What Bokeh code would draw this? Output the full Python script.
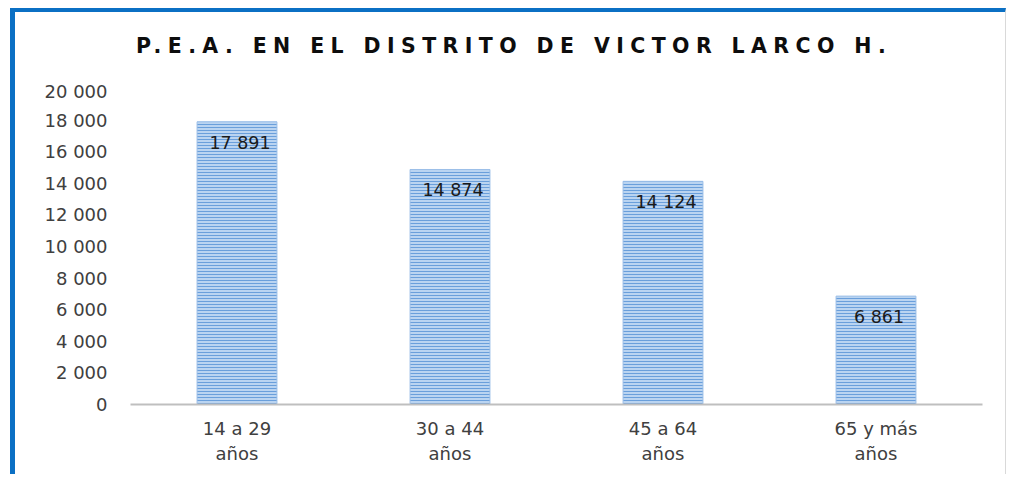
from bokeh.plotting import figure
from bokeh.models import FixedTicker, Div, Range1d, FactorRange
from bokeh.layouts import column
from bokeh.core.properties import value
from bokeh.embed import file_html
from bokeh.resources import INLINE

categories = ["14 a 29\naños", "30 a 44\naños", "45 a 64\naños", "65 y más\naños"]
values = [17891, 14874, 14124, 6861]
value_labels = ["17 891", "14 874", "14 124", "6 861"]
y_ticks = [0, 2000, 4000, 6000, 8000, 10000, 12000, 14000, 16000, 18000, 20000]
y_tick_labels = ["0", "2 000", "4 000", "6 000", "8 000", "10 000", "12 000",
                 "14 000", "16 000", "18 000", "20 000"]
title_text = "P.E.A. EN EL DISTRITO DE VICTOR LARCO H."

FONT = "DejaVu Sans"

title = Div(text=title_text, width=990, height=68,
            styles={"font-family": "DejaVu Sans", "font-weight": "bold",
                    "font-size": "20.5px", "letter-spacing": "6.4px", "word-spacing": "0px",
                    "color": "#0d0d0d", "text-align": "center", "line-height": "24px",
                    "padding-top": "22px", "padding-left": "8px", "box-sizing": "border-box",
                    "margin": "0px"})

p = figure(x_range=FactorRange(*categories, range_padding=0), y_range=Range1d(0, 20000),
           width=990, height=394, frame_width=852, frame_height=316,
           output_backend="svg", toolbar_location=None,
           min_border_left=115, min_border_right=23, min_border_top=8, min_border_bottom=70)
p.outline_line_color = None
p.background_fill_color = "white"
p.border_fill_color = "white"
p.xgrid.grid_line_color = None
p.ygrid.grid_line_color = None

p.vbar(x=categories, top=values, width=0.375, fill_color="#bad4f1", line_color="#9cbfe8",
       line_width=1, hatch_pattern="horizontal_line", hatch_color="#6a9fdb",
       hatch_scale=3, hatch_weight=1)

p.text(x=categories, y=values, text=value_labels, y_offset=21, x_offset=3,
       text_align="center", text_baseline="middle", text_font=value(FONT),
       text_font_size="17.5px", text_color="#1a1a1a")

p.yaxis.ticker = FixedTicker(ticks=y_ticks)
p.yaxis.major_label_overrides = {t: l for t, l in zip(y_ticks, y_tick_labels)}
p.yaxis.axis_line_color = None
p.yaxis.major_tick_line_color = None
p.yaxis.minor_tick_line_color = None
p.yaxis.major_label_text_font = FONT
p.yaxis.major_label_text_font_size = "18px"
p.yaxis.major_label_text_color = "#404040"
p.yaxis.major_label_standoff = 17

p.xaxis.axis_line_color = "#bfbfbf"
p.xaxis.axis_line_width = 2
p.xaxis.major_tick_line_color = None
p.xaxis.minor_tick_line_color = None
p.xaxis.major_label_text_font = FONT
p.xaxis.major_label_text_font_size = "18px"
p.xaxis.major_label_text_color = "#404040"
p.xaxis.major_label_standoff = 7

layout = column(title, p,
                styles={"margin-left": "10px", "margin-top": "8px",
                        "border-left": "5px solid #0b70c4", "border-top": "4px solid #0b70c4",
                        "border-right": "1px solid #d9d9d9", "background-color": "white"})

open("out.html", "w").write(file_html(layout, INLINE))
